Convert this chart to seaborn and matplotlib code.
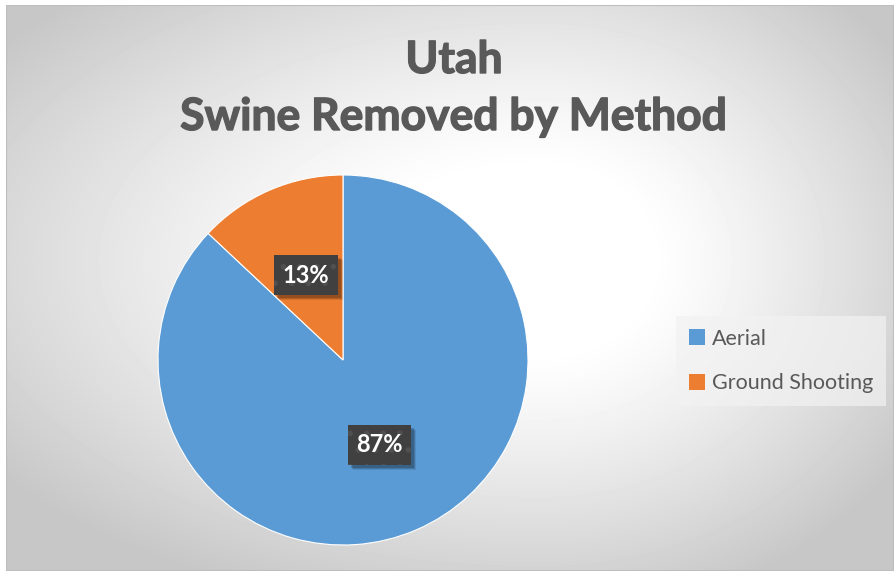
import numpy as np
import matplotlib
matplotlib.use("Agg")
import matplotlib.pyplot as plt
import matplotlib.patheffects as pe
from matplotlib.patches import Rectangle, Patch
import seaborn as sns

# Swine removed in Utah, share by removal method (percent)
methods = ["Aerial", "Ground Shooting"]
shares = [87, 13]
colors = ["#5b9bd5", "#ed7d31"]
title_lines = ["Utah", "Swine Removed by Method"]

sns.set_theme(style="white")
plt.rcParams["font.family"] = ["Lato", "DejaVu Sans"]
plt.rcParams["hatch.linewidth"] = 1.6

W, H = 894, 573
fig = plt.figure(figsize=(W / 100, H / 100), dpi=100)
fig.patch.set_facecolor("white")

# chart area: soft radial gradient, white right of the pie, grey toward the corners
x0, y0, x1, y1 = 6, 5, 894, 571
bg = fig.add_axes([x0 / W, 1 - y1 / H, (x1 - x0) / W, (y1 - y0) / H])
bg.set_axis_off()
yy, xx = np.mgrid[y0:y1, x0:x1].astype(float)
gx, gy = 540.0, 260.0
sx = np.where(xx > gx, 360.0, 560.0)
d = np.hypot((xx - gx) / sx, (yy - gy) / 300.0)
t = np.clip((d - 0.3) / 0.9, 0, 1) ** 1.2
val = 1 - 0.22 * t
bg.imshow(val, cmap="gray", vmin=0, vmax=1, aspect="auto",
          extent=[0, 1, 0, 1], interpolation="bilinear")
bg.set_xlim(0, 1)
bg.set_ylim(0, 1)
bg.add_patch(Rectangle((0, 0), 1, 1, transform=bg.transAxes, fill=False,
                       edgecolor="#bdbdbd", linewidth=1.5))

# pie
cx, cy, r = 343, 360, 185
ax = fig.add_axes([(cx - r) / W, 1 - (cy + r) / H, 2 * r / W, 2 * r / H])
ax.set_facecolor("none")
wedges, _, autotexts = ax.pie(
    shares, colors=colors, startangle=90, counterclock=False,
    autopct=lambda p: f"{p:.0f}%", pctdistance=0.5,
    wedgeprops=dict(edgecolor="white", linewidth=0.8),
    textprops=dict(color="white", fontsize=17, fontweight="bold", zorder=5),
)
ax.set_xlim(-1, 1)
ax.set_ylim(-1, 1)
ax.set_aspect("equal")
ax.set_axis_off()

# dark data-label boxes with a dotted texture
for txt in autotexts:
    txt.set_bbox(dict(boxstyle="square,pad=0.36", facecolor="#404040",
                      edgecolor="#505050", hatch=".", linewidth=0))

# title
for line, base in zip(title_lines, (73, 130)):
    fig.text(454 / W, 1 - base / H, line, ha="center", va="baseline",
             fontsize=32, fontweight="bold", color="#595959",
             path_effects=[pe.withStroke(linewidth=1.0, foreground="#595959")])

# legend
handles = [Patch(facecolor=c, edgecolor="none") for c in colors]
leg = fig.legend(handles, methods, loc="center left",
                 bbox_to_anchor=(676 / W, 1 - 361 / H),
                 frameon=True, fancybox=False, fontsize=15.5,
                 handlelength=0.75, handleheight=0.75, handletextpad=0.3,
                 labelspacing=1.15, borderpad=0.6, borderaxespad=0,
                 labelcolor="#595959")
leg.get_frame().set_facecolor("#f2f2f2")
leg.get_frame().set_alpha(0.7)
leg.get_frame().set_edgecolor("none")

# drop shadows behind the label boxes, placed from their rendered extents
fig.canvas.draw()
for txt in autotexts:
    ext = txt.get_bbox_patch().get_window_extent()
    for k, a in ((5, 0.10), (4, 0.14), (3, 0.18)):
        ax.add_patch(Rectangle((ext.x0 + k, ext.y0 - k), ext.width, ext.height,
                               transform=None, facecolor="black", alpha=a,
                               edgecolor="none", zorder=3))

fig.savefig("out.png", dpi=100)
